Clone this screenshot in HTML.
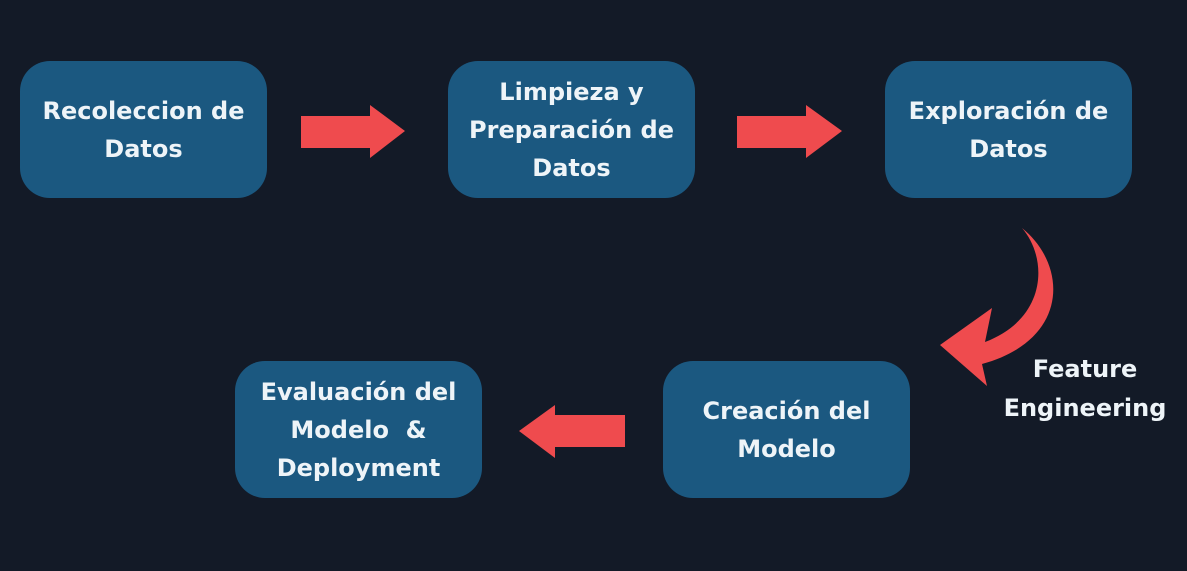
<!DOCTYPE html>
<html><head><style>
body{margin:0;width:1187px;height:571px;background:#131a27;position:relative;overflow:hidden;font-family:"DejaVu Sans","Liberation Sans",sans-serif;}
.b{position:absolute;width:247px;height:137px;background:#1b5880;border-radius:30px;display:flex;align-items:center;justify-content:center;text-align:center;color:#eef4f8;font-weight:bold;font-size:24px;line-height:38px;}
.t{position:absolute;color:#eef4f8;font-weight:bold;font-size:24px;line-height:39px;text-align:center;}
</style></head><body>
<div class="b" style="left:20px;top:61px">Recoleccion de<br>Datos</div>
<div class="b" style="left:448px;top:61px">Limpieza y<br>Preparación de<br>Datos</div>
<div class="b" style="left:885px;top:61px">Exploración de<br>Datos</div>
<div class="b" style="left:235px;top:361px">Evaluación del<br>Modelo &nbsp;&amp;<br>Deployment</div>
<div class="b" style="left:663px;top:361px">Creación del<br>Modelo</div>
<div class="t" style="left:985px;top:350px;width:200px">Feature<br>Engineering</div>
<svg width="1187" height="571" style="position:absolute;left:0;top:0">
<g fill="#ef4b4e">
<polygon points="301,116 370,116 370,105 405,131 370,158 370,148 301,148"/>
<polygon points="737,116 806,116 806,105 842,131 806,158 806,148 737,148"/>
<polygon points="625,415 555,415 555,405 519,431 555,458 555,447 625,447"/>
<path d="M1022,228 C1048,258 1048,318 985,342 L992,308 L940,345 L987,386 L982,364 C1070,340 1068,265 1022,228 Z"/>
</g>
</svg>
</body></html>
